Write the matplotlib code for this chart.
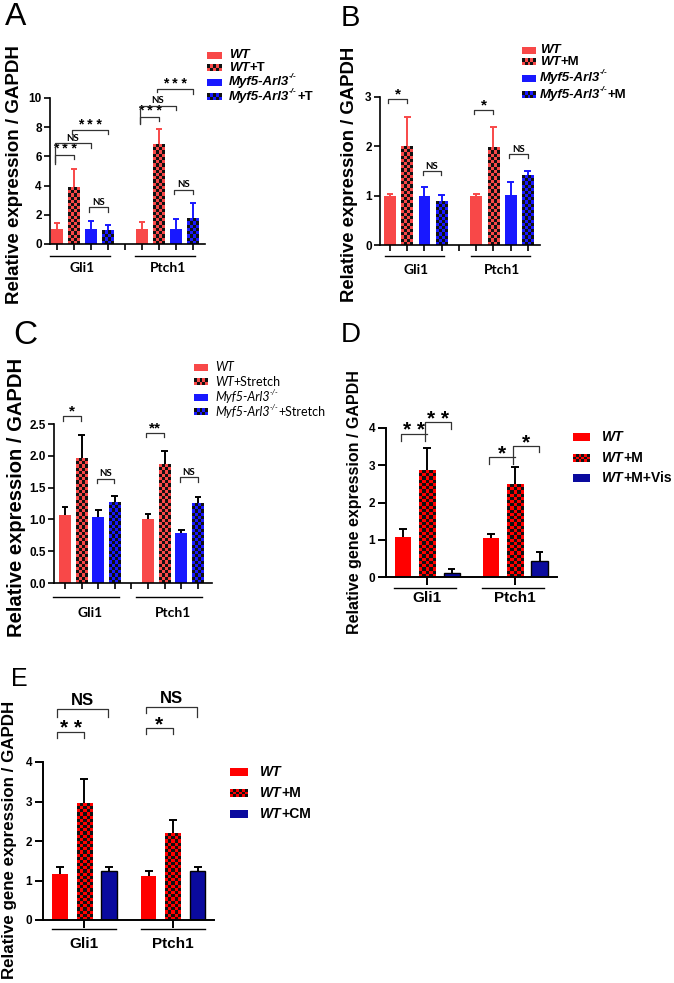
import numpy as np
import matplotlib.pyplot as plt
from matplotlib.colors import ListedColormap

W, H = 674, 983
plt.rcParams['font.family'] = ['Liberation Sans', 'DejaVu Sans']

genes = ['Gli1', 'Ptch1']

# panel A: Tension
a_series = ['WT', 'WT+T', 'Myf5-Arl3-/-', 'Myf5-Arl3-/-+T']
a_mean = [[1.0, 3.9, 1.0, 0.95], [1.0, 6.8, 1.0, 1.75]]
a_sd = [[0.45, 1.25, 0.55, 0.35], [0.5, 1.1, 0.7, 1.05]]
# (gene, bar i, bar j, y, left leg, right leg, label)
a_sig = [(0, 0, 1, 6.1, 0.5, 0.3, '* * *'), (0, 0, 2, 6.9, 1.4, 0.3, 'NS'),
         (0, 1, 3, 7.8, 0.3, 0.3, '* * *'), (0, 2, 3, 2.5, 0.3, 0.3, 'NS'),
         (1, 0, 1, 8.7, 0.4, 0.3, '* * *'), (1, 0, 2, 9.45, 1.2, 0.3, 'NS'),
         (1, 1, 3, 10.6, 0.2, 0.3, '* * *'), (1, 2, 3, 3.7, 0.3, 0.3, 'NS')]

# panel B: M
b_series = ['WT', 'WT+M', 'Myf5-Arl3-/-', 'Myf5-Arl3-/-+M']
b_mean = [[1.0, 2.0, 1.0, 0.88], [1.0, 1.97, 1.02, 1.4]]
b_sd = [[0.04, 0.6, 0.18, 0.14], [0.04, 0.43, 0.25, 0.1]]
b_sig = [(0, 0, 1, 2.96, 0.08, 0.08, '*'), (0, 2, 3, 1.49, 0.08, 0.08, 'NS'),
         (1, 0, 1, 2.73, 0.08, 0.08, '*'), (1, 2, 3, 1.84, 0.08, 0.08, 'NS')]

# panel C: Stretch
c_series = ['WT', 'WT+Stretch', 'Myf5-Arl3-/-', 'Myf5-Arl3-/-+Stretch']
c_mean = [[1.07, 1.96, 1.04, 1.26], [1.01, 1.86, 0.79, 1.25]]
c_sd = [[0.13, 0.37, 0.1, 0.11], [0.07, 0.22, 0.04, 0.1]]
c_sig = [(0, 0, 1, 2.62, 0.07, 0.07, '*'), (0, 2, 3, 1.64, 0.07, 0.07, 'NS'),
         (1, 0, 1, 2.36, 0.07, 0.07, '**'), (1, 2, 3, 1.66, 0.07, 0.07, 'NS')]

# panel D: M + Vis
d_series = ['WT', 'WT+M', 'WT+M+Vis']
d_mean = [[1.07, 2.86, 0.1], [1.04, 2.48, 0.43]]
d_sd = [[0.21, 0.61, 0.11], [0.11, 0.47, 0.24]]
d_sig = [(0, 0, 1, 3.84, 0.2, 0.0, '* *'), (0, 1, 2, 4.16, 0.5, 0.19, '* *'),
         (1, 0, 1, 3.23, 0.19, 0.0, '*'), (1, 1, 2, 3.52, 0.48, 0.16, '*')]

# panel E: CM
e_series = ['WT', 'WT+M', 'WT+CM']
e_mean = [[1.16, 2.96, 1.24], [1.11, 2.18, 1.24]]
e_sd = [[0.18, 0.6, 0.09], [0.13, 0.35, 0.09]]
e_sig = [(0, 0, 1, 4.76, 0.15, 0.15, '* *'), (0, 0, 2, 5.34, 0.2, 0.2, 'NS'),
         (1, 0, 1, 4.86, 0.15, 0.15, '*'), (1, 0, 2, 5.4, 0.15, 0.27, 'NS')]

fig = plt.figure(figsize=(W / 100, H / 100), dpi=100)
ov = fig.add_axes([0, 0, 1, 1])
ov.set_xlim(0, W)
ov.set_ylim(H, 0)
ov.axis('off')


def px_axes(x0, x1, ytop, ybot):
    return fig.add_axes([x0 / W, 1 - ybot / H, (x1 - x0) / W, (ybot - ytop) / H])


def checker(ax, x0, x1, y0, y1, color, nx, ny):
    arr = np.add.outer(np.arange(ny), np.arange(nx)) % 2
    ax.imshow(arr, extent=(x0, x1, y0, y1), origin='lower', aspect='auto',
              interpolation='nearest', cmap=ListedColormap([color, '#111111']), zorder=2.5)


def rich(x, y, parts, size, family):
    r = fig.canvas.get_renderer()
    for s, style, weight, sup in parts:
        fs = size * 0.62 if sup else size
        yy = y - size * 0.55 if sup else y
        t = ov.text(x, yy, s, fontsize=fs, fontstyle=style, fontweight=weight,
                    family=family, va='center', ha='left')
        x += t.get_window_extent(r).width


def label_parts(name, weight):
    geno, _, treat = name.partition('+')
    parts = []
    if geno.endswith('-/-'):
        parts += [(geno[:-3], 'italic', weight, False), ('-/-', 'italic', weight, True)]
    else:
        parts.append((geno, 'italic', weight, False))
    if treat:
        parts.append(('+' + treat, 'normal', weight, False))
    return parts


def legend(series, colors, checks, x, ys, sw, sh, tx, size, weight, family):
    for name, col, chk, y in zip(series, colors, checks, ys):
        if chk:
            checker(ov, x, x + sw, y + sh / 2, y - sh / 2, col, int(round(sw / 3)), max(2, int(round(sh / 3))))
        else:
            ov.add_patch(plt.Rectangle((x, y - sh / 2), sw, sh, color=col, lw=0, zorder=2))
        rich(tx, y, label_parts(name, weight), size, family)


def panel(ax, pos, means, sds, colors, checks, width, ecols, edges, xlim, ylim, yticks, ytl,
          sig, sig_fs, sig_family, xticks, tick_len, spine_w, glabel_fs, glabel_family,
          glabel_weight, gline_dy, glabel_dy, gspan, capw):
    ax.set_xlim(*xlim)
    ax.set_ylim(*ylim)
    for g in range(2):
        for i in range(len(means[g])):
            ax.bar(pos[g][i], means[g][i], width=width, color=colors[i],
                   edgecolor=edges[i] if edges[i] else 'none', lw=1.0 if edges[i] else 0, zorder=2)
            top = means[g][i] + sds[g][i]
            ax.vlines(pos[g][i], means[g][i], top, color=ecols[i], lw=1.4, zorder=1.8)
            ax.hlines(top, pos[g][i] - capw, pos[g][i] + capw, color=ecols[i], lw=1.4, zorder=1.8)
            if checks[i]:
                x0 = pos[g][i] - width / 2
                x1 = pos[g][i] + width / 2
                p0 = ax.transData.transform((x0, 0))
                p1 = ax.transData.transform((x1, means[g][i]))
                nx = max(1, int(round((p1[0] - p0[0]) / 3.2)))
                ny = max(1, int(round((p1[1] - p0[1]) / 3.2)))
                checker(ax, x0, x1, 0, means[g][i], colors[i], nx, ny)
    ax.set_xlim(*xlim)
    ax.set_ylim(*ylim)
    for s in ['top', 'right']:
        ax.spines[s].set_visible(False)
    for s in ['left', 'bottom']:
        ax.spines[s].set_linewidth(spine_w)
    ax.set_yticks(yticks, labels=ytl, fontweight='bold', fontsize=8.5)
    ax.set_xticks(xticks, labels=[])
    ax.tick_params(axis='both', direction='out', length=tick_len, width=spine_w, pad=2)
    ax.patch.set_visible(False)
    hpx = ax.bbox.height
    tr = ax.get_xaxis_transform()
    for g, gene in enumerate(genes):
        x0 = pos[g][0] - gspan[0]
        x1 = pos[g][-1] + gspan[1]
        ax.plot([x0, x1], [-gline_dy / hpx] * 2, color='black', lw=1.0, transform=tr, clip_on=False)
        ax.text((pos[g][0] + pos[g][-1]) / 2, -glabel_dy / hpx, gene, transform=tr, ha='center', va='center',
                fontsize=glabel_fs, family=glabel_family, fontweight=glabel_weight)
    for g, i, j, y, ll, rl, lab in sig:
        xa = pos[g][i] - 0.1
        xb = pos[g][j] - 0.02
        ax.plot([xa, xa, xb, xb], [y - ll, y, y, y - rl], color='#333333', lw=0.9, clip_on=False, zorder=3)
        fs = sig_fs[lab]
        if lab == 'NS':
            ax.annotate(lab, ((xa + xb) / 2, y), xytext=(0, 0.5), textcoords='offset points',
                        ha='center', va='bottom', fontsize=fs, family=sig_family,
                        fontweight='bold', annotation_clip=False)
        else:
            ax.annotate(lab, ((xa + xb) / 2, y), xytext=(0, 6.9 - 0.58 * fs), textcoords='offset points',
                        ha='center', va='baseline', fontsize=fs, family='Liberation Sans',
                        fontweight='bold', annotation_clip=False)


red1, blue1 = '#f84848', '#1818ff'
red2, blue2 = '#ff0000', '#0a0a9e'
four_pos = [[1, 2, 3, 4], [6, 7, 8, 9]]
three_pos = [[0, 1, 2], [3.62, 4.62, 5.62]]
cols4 = [red1, red1, blue1, blue1]
chk4 = [False, True, False, True]
cols3 = [red2, red2, blue2]
chk3 = [False, True, False]
fs_small = {'NS': 7, '*': 11, '**': 11, '* * *': 10}
fs_big = {'NS': 12, '*': 15, '* *': 15}

axA = px_axes(50, 205, 98, 244)
panel(axA, four_pos, a_mean, a_sd, cols4, chk4, 0.69, cols4, [None] * 4, (0.59, 9.7), (0, 10),
      range(0, 11, 2), [str(v) for v in range(0, 11, 2)], a_sig, fs_small, 'Lato',
      range(1, 10), 4, 1.2, 10, 'Lato', 'bold', 12, 24, (0.4, 0.12), 0.2)

axB = px_axes(380, 540, 97, 245)
panel(axB, four_pos, b_mean, b_sd, cols4, chk4, 0.68, cols4, [None] * 4, (0.42, 9.7), (0, 3),
      range(0, 4), [str(v) for v in range(0, 4)], b_sig, fs_small, 'Lato',
      range(1, 10), 4, 1.2, 10, 'Lato', 'bold', 11, 25, (0.3, 0.12), 0.2)

axC = px_axes(54, 212, 424, 583)
panel(axC, four_pos, c_mean, c_sd, cols4, chk4, 0.7, ['black'] * 4, [None] * 4, (0.34, 9.85), (0, 2.5),
      np.arange(0, 2.6, 0.5), ['%.1f' % v for v in np.arange(0, 2.6, 0.5)], c_sig, fs_small, 'Lato',
      range(1, 10), 4, 1.2, 10, 'Lato', 'bold', 14, 30, (0.7, 0.25), 0.2)

axD = px_axes(386, 557, 428, 577)
panel(axD, three_pos, d_mean, d_sd, cols3, chk3, 0.66, ['black'] * 3, [None, None, 'black'], (-0.7, 6.34), (0, 4),
      range(0, 5), [str(v) for v in range(0, 5)], d_sig, fs_big, 'Liberation Sans',
      [1, 4.62], 6, 1.4, 11, 'Liberation Sans', 'bold', 11, 21, (0.38, 0.18), 0.16)

axE = px_axes(43, 214, 762, 920)
panel(axE, three_pos, e_mean, e_sd, cols3, chk3, 0.63, ['black'] * 3, [None, None, 'black'], (-0.69, 6.29), (0, 4),
      range(0, 5), [str(v) for v in range(0, 5)], e_sig, fs_big, 'Liberation Sans',
      [1, 4.63], 6, 1.4, 11, 'Liberation Sans', 'bold', 9, 24, (0.33, 0.3), 0.16)

# legends
legend(a_series, cols4, chk4, 207, [55, 68, 82, 97], 15, 7, 229, 9.5, 'bold', 'Liberation Sans')
legend(b_series, cols4, chk4, 522, [50, 62, 78, 95], 14, 7, 540, 9.5, 'bold', 'Liberation Sans')
legend(c_series, cols4, chk4, 194, [367, 382, 397, 412], 14, 7, 215, 9, 'normal', 'Lato')
legend(d_series, cols3, chk3, 573, [437, 458, 478], 17, 8, 602, 10, 'bold', 'Liberation Sans')
legend(e_series, cols3, chk3, 230, [772, 793, 814], 18, 8, 260, 10, 'bold', 'Liberation Sans')
ov.set_xlim(0, W)
ov.set_ylim(H, 0)

# y labels and panel letters
for x, y, txt, fs in [(15, 175, 'Relative expression / GAPDH', 13.5),
                      (350, 174, 'Relative expression / GAPDH', 13.3),
                      (17, 497, 'Relative expression / GAPDH', 14.5),
                      (355, 502, 'Relative gene expression / GAPDH', 11.5),
                      (10, 840, 'Relative gene expression / GAPDH', 12.2)]:
    ov.text(x, y, txt, rotation=90, ha='center', va='center', fontsize=fs, fontweight='bold')

for x, y, txt, fs in [(16, 17, 'A', 23), (350, 18, 'B', 21), (25, 336, 'C', 24),
                      (351, 335, 'D', 20), (19, 679, 'E', 18)]:
    ov.text(x, y, txt, ha='center', va='center', fontsize=fs)

fig.savefig('out.png', dpi=100)
